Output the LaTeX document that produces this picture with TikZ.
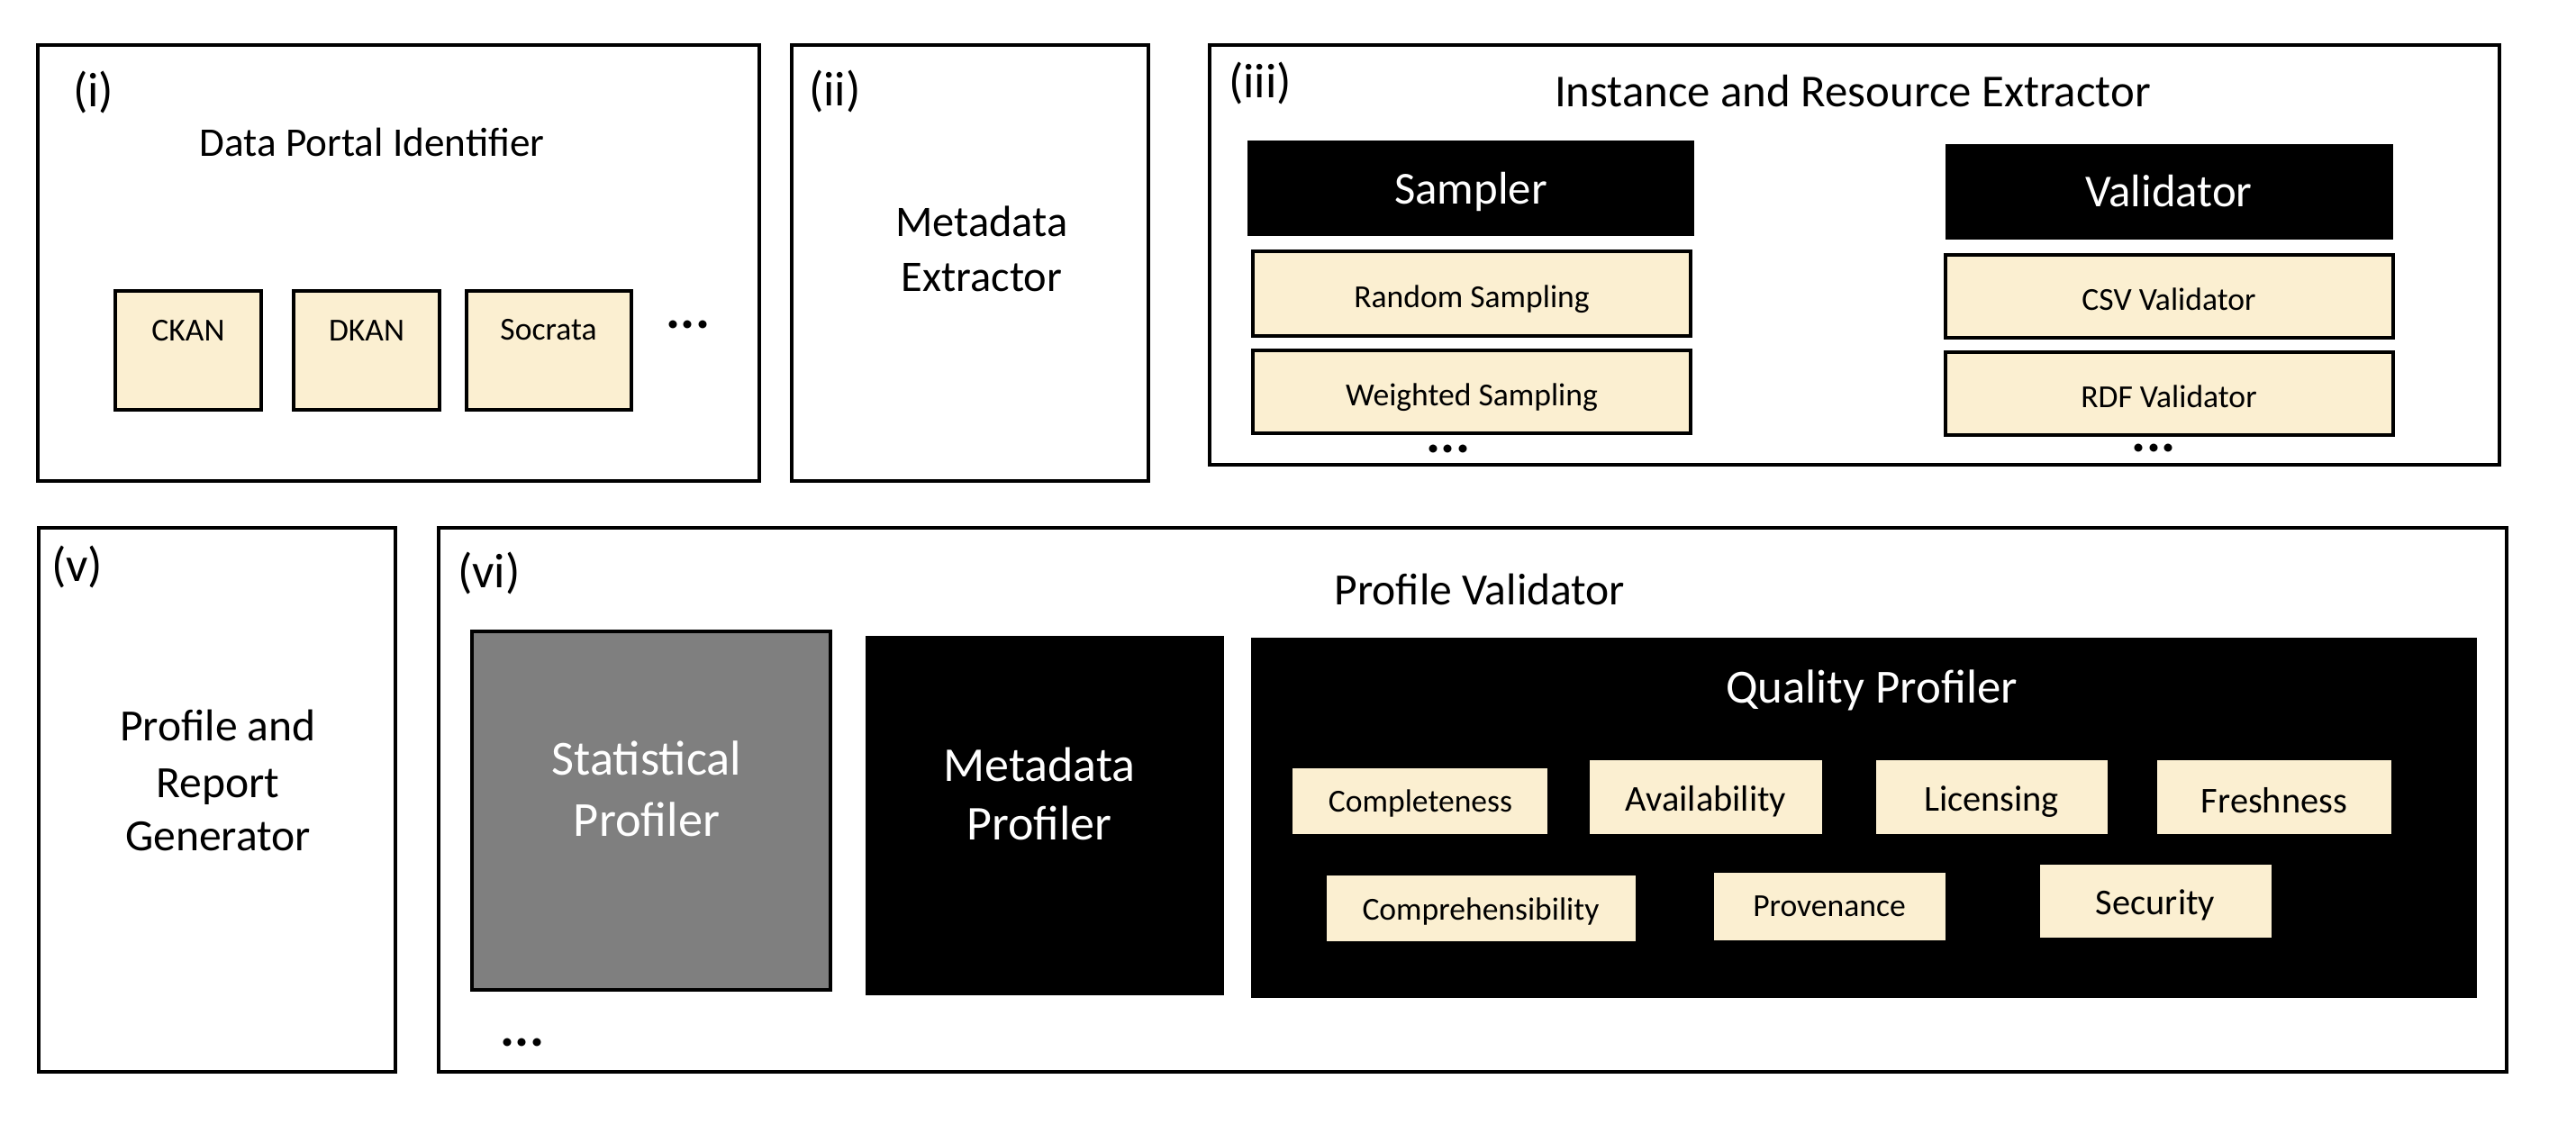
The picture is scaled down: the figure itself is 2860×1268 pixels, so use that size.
\documentclass[tikz,border=0pt]{standalone}
\usepackage{fontspec}
\setmainfont{Carlito}
\definecolor{tanfill}{HTML}{FBEFD1}
\definecolor{midgray}{HTML}{7F7F7F}
\newcommand\pxbox[6]{\node[#2, minimum width={(#5-#3)*0.25pt}, minimum height={(#6-#4)*0.25pt}] (#1) at ({(#3+#5)/2},{(#4+#6)/2}) {};}
\newcommand\fs[2]{\fontsize{#1}{#2}\selectfont}
\begin{document}
\begin{tikzpicture}[x=0.25pt,y=-0.25pt,
  every node/.style={inner sep=0pt, outer sep=0pt},
  frame/.style={draw=black, line width=1.1pt, fill=white},
  tanbox/.style={draw=black, line width=1pt, fill=tanfill},
  tanflat/.style={fill=tanfill},
  blackbox/.style={fill=black},
  graybox/.style={draw=black, line width=1pt, fill=midgray},
  txt/.style={anchor=base, align=center},
  lbl/.style={anchor=base west, font=\fs{13.5pt}{16pt}},
  dots/.style={anchor=base, font=\fs{15pt}{18pt}\bfseries},
  small/.style={txt, font=\fs{8.9pt}{10.7pt}},
  mid/.style={txt, font=\fs{10.1pt}{12pt}},
  wtxt/.style={txt, text=white}
]
\useasboundingbox (0,0) rectangle (2860,1268);
\fill[white] (0,0) rectangle (2860,1268);

% outer frames
\pxbox{boxi}{frame}{42}{50}{843}{534}
\pxbox{boxii}{frame}{879}{50}{1275}{534}
\pxbox{boxiii}{frame}{1343}{50}{2775}{516}
\pxbox{boxv}{frame}{43}{586}{439}{1190}
\pxbox{boxvi}{frame}{487}{586}{2783}{1190}

% labels
\node[lbl] (li) at (81,118) {(i)};
\node[lbl] (lii) at (898,117) {(ii)};
\node[lbl] (liii) at (1364,108) {(iii)};
\node[lbl] (lv) at (57,645) {(v)};
\node[lbl] (lvi) at (508,652) {(vi)};

% (i) Data Portal Identifier
\node[txt, font=\fs{11.3pt}{13.5pt}] (tdpi) at (413,173) {Data Portal Identifier};
\pxbox{ckan}{tanbox}{128}{323}{290}{455}
\pxbox{dkan}{tanbox}{326}{323}{488}{455}
\pxbox{socrata}{tanbox}{518}{323}{701}{455}
\node[small] (tckan) at (209,378) {CKAN};
\node[small] (tdkan) at (407,378) {DKAN};
\node[small] (tsoc) at (609,377) {Socrata};
\node[dots] (di) at (764,364) {...};

% (ii) Metadata Extractor
\node[txt, font=\fs{12.1pt}{15.25pt}] (tme1) at (1090,262) {Metadata};
\node[txt, font=\fs{12.1pt}{15.25pt}] (tme2) at (1090,323) {Extractor};

% (iii) Instance and Resource Extractor
\node[txt, font=\fs{12.7pt}{15pt}] (tire) at (2057,118) {Instance and Resource Extractor};
\pxbox{sampler}{blackbox}{1385}{156}{1881}{262}
\pxbox{validator}{blackbox}{2160}{160}{2657}{266}
\node[wtxt, font=\fs{12.7pt}{15pt}] (tsam) at (1633,226) {Sampler};
\node[wtxt, font=\fs{12.7pt}{15pt}] (tval) at (2408,229) {Validator};
\pxbox{random}{tanbox}{1391}{279}{1877}{373}
\pxbox{weighted}{tanbox}{1391}{389}{1877}{481}
\pxbox{csv}{tanbox}{2160}{283}{2657}{375}
\pxbox{rdf}{tanbox}{2160}{391}{2657}{483}
\node[small] (trand) at (1634,341) {Random Sampling};
\node[small] (tweig) at (1634,450) {Weighted Sampling};
\node[small] (tcsv) at (2408,344) {CSV Validator};
\node[small] (trdf) at (2408,452) {RDF Validator};
\node[dots] (diii1) at (1608,502) {...};
\node[dots] (diii2) at (2391,501) {...};

% (v) Profile and Report Generator
\node[txt, font=\fs{12.4pt}{15.5pt}] (tpr1) at (242,822) {Profile and};
\node[txt, font=\fs{12.4pt}{15.5pt}] (tpr2) at (242,885) {Report};
\node[txt, font=\fs{12.4pt}{15.5pt}] (tpr3) at (242,944) {Generator};

% (vi) Profile Validator
\node[txt, font=\fs{12.4pt}{15pt}] (tpv) at (1643,671) {Profile Validator};
\pxbox{stat}{graybox}{524}{701}{922}{1099}
\node[wtxt, font=\fs{13.6pt}{17pt}] (tst1) at (718,860) {Statistical};
\node[wtxt, font=\fs{13.6pt}{17pt}] (tst2) at (718,928) {Profiler};
\pxbox{metaprof}{blackbox}{961}{706}{1359}{1105}
\node[wtxt, font=\fs{13.5pt}{16pt}] (tmp1) at (1154,867) {Metadata};
\node[wtxt, font=\fs{13.5pt}{16pt}] (tmp2) at (1154,932) {Profiler};
\pxbox{quality}{blackbox}{1389}{708}{2750}{1108}
\node[wtxt, font=\fs{13.2pt}{16pt}] (tqp) at (2078,780) {Quality Profiler};
\pxbox{completeness}{tanflat}{1435}{853}{1718}{926}
\pxbox{availability}{tanflat}{1765}{844}{2023}{926}
\pxbox{licensing}{tanflat}{2083}{844}{2340}{926}
\pxbox{freshness}{tanflat}{2395}{844}{2655}{926}
\pxbox{comprehensibility}{tanflat}{1473}{972}{1816}{1045}
\pxbox{provenance}{tanflat}{1903}{969}{2160}{1044}
\pxbox{security}{tanflat}{2265}{960}{2522}{1041}
\node[small] (tcomp) at (1577,901) {Completeness};
\node[mid] (tavail) at (1894,900) {Availability};
\node[mid] (tlic) at (2211,900) {Licensing};
\node[mid] (tfresh) at (2525,902) {Freshness};
\node[small] (tcompr) at (1644,1021) {Comprehensibility};
\node[small] (tprov) at (2031,1017) {Provenance};
\node[mid] (tsec) at (2393,1015) {Security};
\node[dots] (dvi) at (580,1161) {...};
\end{tikzpicture}
\end{document}
